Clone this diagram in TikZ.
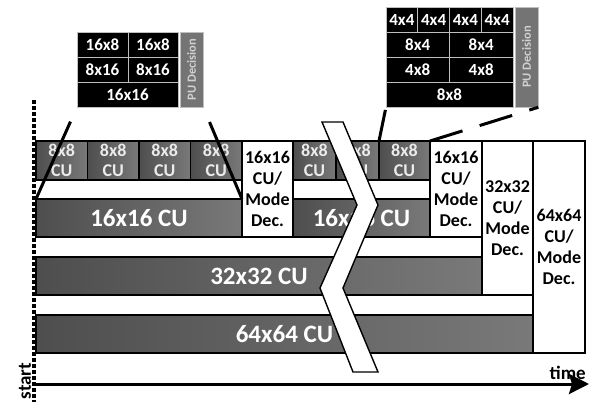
\documentclass[tikz,border=0pt]{standalone}
\usepackage{fontspec}
\setmainfont{Carlito}
\usepackage{tikz}
\usetikzlibrary{arrows.meta}
\definecolor{cudark}{HTML}{4E4E4E}
\definecolor{cumid}{HTML}{616161}
\definecolor{culight}{HTML}{797979}
\definecolor{pugray}{HTML}{747474}
\tikzset{
    cubox/.style = {rectangle, anchor=north west, align=center, inner sep=0pt, outer sep=0pt, draw=black, line width=1.1pt},
    cu_cell/.style = {cubox, left color=cudark, middle color=cumid, right color=culight, text=white!92!black, minimum width=#1, minimum height=39pt, font=\bfseries\fontsize{18}{20}\selectfont},
    cu_bar/.style = {cubox, left color=cudark, middle color=cumid, right color=culight, text=white, minimum width=#1, minimum height=38pt, font=\bfseries\fontsize{25}{28}\selectfont},
    mode_box/.style = {cubox, fill=white, text=black, minimum width=#1, font=\bfseries\fontsize{18}{21}\selectfont},
    pu_cell/.style = {cubox, fill=black, draw=white!75!black, line width=0.8pt, text=white, minimum width=#1, minimum height=25pt, font=\bfseries\fontsize{17}{18}\selectfont},
    pu_dec/.style = {rectangle, rotate=90, inner sep=0pt, fill=pugray, draw=white!75!black, line width=0.6pt, text=white!82!black, font=\bfseries\fontsize{12.5}{14}\selectfont},
    zoom_line/.style = {draw=black, line width=3pt},
    break_mark/.style = {fill=white, draw=black, line width=1.4pt, line join=miter},
    start_line/.style = {draw=black, line width=3.6pt, dash pattern=on 3.5pt off 2.5pt},
    time_axis/.style = {draw=black, line width=3pt, -{Stealth[length=20pt, width=20pt, inset=3pt]}},
    axis_label/.style = {inner sep=0pt, font=\bfseries\fontsize{19}{21}\selectfont}
}
\begin{document}
\begin{tikzpicture}[x=1pt, y=-1pt]
\useasboundingbox (0,0) rectangle (589,402);

% PU decision of a 16x16 CU
\node[pu_cell=51pt] (puA1) at (77,32) {16x8};
\node[pu_cell=50pt] (puA2) at (128,32) {16x8};
\node[pu_cell=51pt] (puA3) at (77,57) {8x16};
\node[pu_cell=50pt] (puA4) at (128,57) {8x16};
\node[pu_cell=101pt] (puA5) at (77,82) {16x16};
\node[pu_dec, minimum width=75pt, minimum height=23pt] (decA) at (191.5,69.5) {PU Decision};

% PU decision of an 8x8 CU
\foreach \i in {0,...,3}
    \node[pu_cell=31.75pt] (puB\i) at ({386+31.75*\i},7) {4x4};
\node[pu_cell=63.5pt] (puB4) at (386,32) {8x4};
\node[pu_cell=63.5pt] (puB5) at (449.5,32) {8x4};
\node[pu_cell=63.5pt] (puB6) at (386,57) {4x8};
\node[pu_cell=63.5pt] (puB7) at (449.5,57) {4x8};
\node[pu_cell=127pt] (puB8) at (386,82) {8x8};
\node[pu_dec, minimum width=100pt, minimum height=23pt] (decB) at (526.5,57) {PU Decision};

% 8x8 CUs and mode decisions
\foreach \i in {0,...,3}
    \node[cu_cell=51.5pt] (cuA\i) at ({36+51.5*\i},141) {8x8\\CU};
\node[mode_box=51pt, minimum height=96pt] (modeA) at (242,141) {16x16\\CU/\\Mode\\Dec.};
\node[cu_cell=43pt] (cuB0) at (293,141) {8x8\\CU};
\node[cu_cell=43pt] (cuB1) at (336,141) {8x8\\CU};
\node[cu_cell=51pt] (cuB2) at (379,141) {8x8\\CU};
\node[mode_box=52pt, minimum height=96pt] (modeB) at (430,141) {16x16\\CU/\\Mode\\Dec.};
\node[mode_box=51pt, minimum height=154pt] (mode32) at (482,141) {32x32\\CU/\\Mode\\Dec.};
\node[mode_box=52pt, minimum height=212pt] (mode64) at (533,141) {64x64\\CU/\\Mode\\Dec.};

% larger CUs
\node[cu_bar=206pt] (barA) at (36,199) {16x16 CU};
\node[cu_bar=137pt] (barB) at (293,199) {16x16 CU};
\node[cu_bar=446pt] (bar32) at (36,257) {32x32 CU};
\node[cu_bar=497pt] (bar64) at (36,315) {64x64 CU};

% zoom lines
\draw[zoom_line, shorten <=16pt] (puA5.south west) -- (barA.north west);
\draw[zoom_line, shorten <=16pt] (decA.south west) -- (barA.north east);
\draw[zoom_line, shorten <=3pt] (puB8.south west) -- (cuB2.north west);
\draw[zoom_line, dash pattern=on 34pt off 18pt] (cuB2.north east) -- (decB.south west);

% time break
\draw[break_mark] (322,122) -- (343,122) -- (378,205) -- (343,288) -- (378,372)
    -- (353,372) -- (320,288) -- (357,205) -- cycle;

% time axis
\coordinate (s0) at (34,100);
\coordinate (s1) at (34,402);
\coordinate (t0) at (34,384);
\coordinate (t1) at (589,384);
\draw[start_line] (s0) -- (s1);
\draw[time_axis] (t0) -- (t1);
\node[axis_label, anchor=south east] (timelbl) at (586,380) {time};
\node[axis_label, rotate=90] (startlbl) at (25,381) {start};
\end{tikzpicture}
\end{document}
